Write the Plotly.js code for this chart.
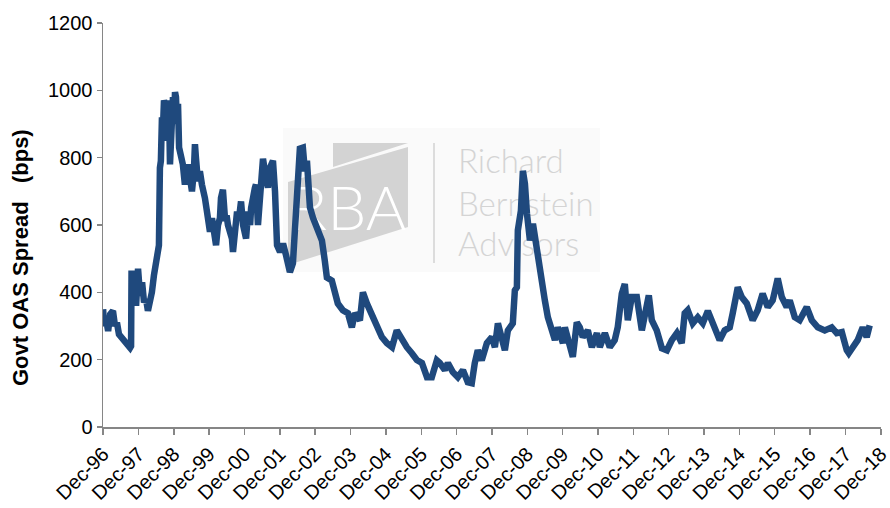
<!DOCTYPE html>
<html>
<head>
<meta charset="utf-8">
<script src="https://cdn.plot.ly/plotly-3.0.1.min.js"></script>
<style>
html,body{margin:0;padding:0;background:#fff;}
#chart{width:890px;height:508px;}
</style>
</head>
<body>
<div id="chart"></div>
<script>
// Govt OAS spread (bps)
const dates = [
'1996-12-01','1996-12-11','1997-01-01','1997-01-22','1997-02-12','1997-03-13','1997-04-03','1997-04-23','1997-05-14','1997-06-14',
'1997-07-15','1997-08-15','1997-09-06','1997-09-16','1997-09-21','1997-10-06','1997-10-27','1997-11-07','1997-11-27','1997-12-18',
'1998-01-08','1998-01-28','1998-02-18','1998-03-09','1998-03-29','1998-04-19','1998-05-10','1998-05-20','1998-06-10','1998-06-20',
'1998-07-01','1998-07-11','1998-07-21','1998-08-01','1998-08-11','1998-08-22','1998-09-02','1998-09-12','1998-09-22','1998-10-03',
'1998-10-13','1998-10-23','1998-11-03','1998-11-13','1998-11-23','1998-12-04','1998-12-14','1998-12-24','1999-01-04','1999-01-14',
'1999-01-25','1999-02-04','1999-02-14','1999-03-05','1999-03-26','1999-04-06','1999-04-26','1999-05-17','1999-06-07','1999-06-27',
'1999-07-08','1999-07-18','1999-08-08','1999-08-28','1999-09-18','1999-10-09','1999-10-19','1999-11-09','1999-11-19','1999-12-10',
'1999-12-31','2000-01-21','2000-02-11','2000-03-02','2000-03-22','2000-04-02','2000-04-22','2000-05-13','2000-06-03','2000-06-13',
'2000-07-03','2000-07-24','2000-08-04','2000-08-25','2000-09-15','2000-10-05','2000-10-26','2000-11-16','2000-12-17','2001-01-07',
'2001-01-28','2001-02-07','2001-02-28','2001-03-18','2001-03-29','2001-04-19','2001-05-10','2001-06-10','2001-07-10','2001-07-31',
'2001-08-21','2001-09-21','2001-10-12','2001-11-02','2001-12-03','2002-01-03','2002-02-03','2002-03-15','2002-04-15','2002-05-05',
'2002-05-26','2002-06-26','2002-07-27','2002-08-17','2002-09-07','2002-09-17','2002-10-08','2002-11-08','2002-12-29','2003-02-09',
'2003-03-10','2003-04-01','2003-05-22','2003-06-22','2003-07-23','2003-09-13','2003-11-04','2003-12-15','2004-01-15','2004-03-07',
'2004-04-07','2004-05-18','2004-06-18','2004-07-19','2004-08-30','2004-10-20','2004-12-11','2005-02-02','2005-03-23','2005-05-14',
'2005-07-05','2005-08-26','2005-10-17','2005-12-08','2006-01-29','2006-03-20','2006-05-11','2006-06-11','2006-08-02','2006-09-02',
'2006-10-23','2006-12-14','2007-02-05','2007-03-27','2007-05-07','2007-06-07','2007-07-08','2007-08-18','2007-10-10','2007-12-01',
'2008-01-01','2008-02-01','2008-03-13','2008-04-13','2008-05-14','2008-07-04','2008-07-25','2008-08-15','2008-08-25','2008-09-26',
'2008-10-16','2008-11-06','2008-11-27','2008-12-28','2009-01-28','2009-03-09','2009-04-09','2009-04-30','2009-05-31','2009-07-01',
'2009-08-11','2009-09-12','2009-10-12','2009-12-04','2009-12-24','2010-01-25','2010-03-16','2010-04-26','2010-05-27','2010-06-27',
'2010-08-18','2010-09-29','2010-11-20','2010-12-20','2011-02-10','2011-04-02','2011-05-23','2011-06-23','2011-08-04','2011-09-04',
'2011-10-05','2011-11-15','2012-01-06','2012-02-27','2012-04-08','2012-05-09','2012-06-09','2012-07-30','2012-09-21','2012-11-12',
'2013-01-02','2013-02-23','2013-04-14','2013-05-15','2013-06-15','2013-08-06','2013-09-27','2013-11-18','2014-01-09','2014-02-28',
'2014-05-11','2014-07-02','2014-08-23','2014-09-23','2014-11-14','2014-12-25','2015-02-15','2015-04-17','2015-06-08','2015-07-29',
'2015-09-20','2015-11-10','2016-01-01','2016-02-12','2016-04-03','2016-05-04','2016-06-25','2016-08-15','2016-10-27','2016-12-18',
'2017-02-18','2017-05-01','2017-07-12','2017-09-02','2017-10-24','2017-12-14','2018-01-04','2018-02-15','2018-04-06','2018-05-28',
'2018-07-08','2018-08-08'
];
const spreadBps = [
350,300,320,285,335,345,300,310,275,265,
255,245,235,240,465,380,440,360,470,390,
430,370,380,345,370,400,450,470,500,530,
540,770,790,920,880,970,960,850,970,900,
950,780,930,850,980,900,995,980,900,960,
830,820,800,780,720,760,780,740,700,760,
840,800,730,760,720,700,680,640,610,580,
620,580,540,600,620,680,705,620,620,600,
580,560,520,600,640,620,670,600,560,640,
600,650,700,710,720,600,680,797,740,711,
770,791,700,540,520,545,510,460,486,604,
723,827,830,760,791,723,652,622,584,554,
495,444,435,406,367,347,338,296,338,317,
400,367,347,317,296,267,249,237,287,258,
237,219,199,190,148,148,198,190,169,190,
163,148,169,133,130,190,228,198,249,267,
237,308,267,228,287,308,406,415,584,643,
761,723,634,554,604,524,465,406,376,326,
287,258,296,249,296,258,208,311,296,267,
287,237,279,237,279,237,258,296,396,425,
317,386,386,287,356,391,317,287,234,228,
258,279,249,338,347,308,326,308,345,308,
258,287,296,338,415,386,367,317,347,396,
356,376,441,386,356,376,326,317,356,317,
296,287,296,279,282,228,219,237,258,296,
267,302
];
const xTickVals = ['1996-12-01','1997-12-01','1998-12-01','1999-12-01','2000-12-01','2001-12-01','2002-12-01','2003-12-01',
  '2004-12-01','2005-12-01','2006-12-01','2007-12-01','2008-12-01','2009-12-01','2010-12-01','2011-12-01','2012-12-01',
  '2013-12-01','2014-12-01','2015-12-01','2016-12-01','2017-12-01','2018-12-01'];
const xTickLabels = ['Dec-96','Dec-97','Dec-98','Dec-99','Dec-00','Dec-01','Dec-02','Dec-03','Dec-04','Dec-05','Dec-06',
  'Dec-07','Dec-08','Dec-09','Dec-10','Dec-11','Dec-12','Dec-13','Dec-14','Dec-15','Dec-16','Dec-17','Dec-18'];
const yTickVals = [0,200,400,600,800,1000,1200];
const yAxisTitle = 'Govt OAS Spread\u00A0\u00A0\u00A0(bps)';
const logoLines = ['Richard','Bernstein','Advisors'];
const logoMark = 'RBA';

// watermark geometry in pixels -> paper coordinates
const L = 103, R = 881, T = 23, B = 427;
const px = x => (x - L) / (R - L);
const py = y => (B - y) / (B - T);
const pathOf = pts => 'M' + pts.map(p => px(p[0]).toFixed(4) + ',' + py(p[1]).toFixed(4)).join(' L') + ' Z';

const shapes = [
  {type:'rect', xref:'paper', yref:'paper', layer:'below', x0:px(283), x1:px(600), y0:py(272), y1:py(128),
   fillcolor:'#fafafa', line:{width:0}},
  {type:'path', xref:'paper', yref:'paper', layer:'below', path:pathOf([[333,143],[408,143],[333,167]]),
   fillcolor:'#d3d3d3', line:{width:0}},
  {type:'path', xref:'paper', yref:'paper', layer:'below', path:pathOf([[288,182],[408,147],[408,227],[288,265]]),
   fillcolor:'#d3d3d3', line:{width:0}},
  {type:'line', xref:'paper', yref:'paper', layer:'below', x0:px(434), x1:px(434), y0:py(263), y1:py(143),
   line:{color:'#dcdcdc', width:2}},
  {type:'rect', xref:'paper', yref:'paper', layer:'below', x0:px(278), x1:px(418), y0:py(230), y1:py(180),
   fillcolor:'rgba(0,0,0,0)', line:{width:0},
   label:{text:logoMark, textposition:'middle center', font:{family:'Lato, Roboto', size:62, color:'#ffffff', weight:300}}}
];
const baselines = [160, 203, 243];
logoLines.forEach((t, i) => {
  shapes.push({type:'rect', xref:'paper', yref:'paper', layer:'below', x0:px(455), x1:px(620),
    y0:py(baselines[i] + 18), y1:py(baselines[i] - 18), fillcolor:'rgba(0,0,0,0)', line:{width:0},
    label:{text:t, textposition:'middle left', padding:0,
      font:{family:'Lato, Roboto, Liberation Sans', size:33, color:'#d4d4d4', weight:300}}});
});

const trace = {
  x: dates, y: spreadBps, type:'scatter', mode:'lines',
  line:{color:'#1F497D', width:6.5}, hoverinfo:'x+y'
};

const axisFont = {family:'Liberation Sans, Arial, sans-serif', size:20, color:'#000'};
const layout = {
  width:890, height:508,
  margin:{l:L, r:890-R, t:T, b:508-B, pad:0},
  paper_bgcolor:'#fff', plot_bgcolor:'rgba(0,0,0,0)',
  showlegend:false,
  xaxis:{type:'date', range:['1996-11-30','2018-12-03'], tickmode:'array', tickvals:xTickVals, ticktext:xTickLabels,
    tickangle:-45, ticks:'outside', ticklen:6, tickwidth:1.5, tickcolor:'#868686', ticklabeloverflow:'allow',
    showline:true, linecolor:'#868686', linewidth:1.5, showgrid:false, zeroline:false, tickfont:axisFont, automargin:false},
  yaxis:{range:[0,1200], tickmode:'array', tickvals:yTickVals, ticks:'outside', ticklen:5, tickwidth:1.5, tickcolor:'#868686',
    showline:true, linecolor:'#868686', linewidth:1.5, showgrid:false, zeroline:false, tickfont:axisFont, automargin:false},
  annotations:[{xref:'paper', yref:'paper', x:px(20), y:py(258), xanchor:'center', yanchor:'middle', showarrow:false,
    textangle:-90, text:yAxisTitle, font:{family:'Liberation Sans, Arial, sans-serif', size:22, color:'#000', weight:'bold'}}],
  shapes: shapes
};
Plotly.newPlot('chart', [trace], layout, {staticPlot:true, displayModeBar:false});
</script>
</body>
</html>
